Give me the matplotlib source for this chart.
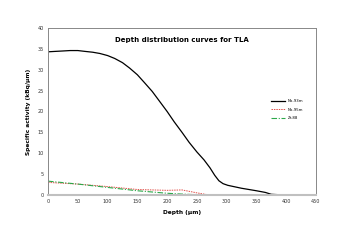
import matplotlib.pyplot as plt

# depth distribution data
depth_a = [0, 12, 25, 37, 50, 62, 75, 87, 100, 112, 125, 137, 150, 162, 175, 187,
           200, 212, 225, 237, 250, 262, 272, 280, 287, 294, 302, 325, 350, 365, 375, 395]
act_a = [34.3, 34.4, 34.5, 34.6, 34.6, 34.4, 34.2, 33.9, 33.4, 32.7, 31.7, 30.4,
         28.8, 26.9, 24.8, 22.5, 20.0, 17.5, 15.0, 12.6, 10.3, 8.4, 6.5, 4.7, 3.4,
         2.7, 2.3, 1.6, 1.0, 0.6, 0.15, 0.0]
depth_b = [0, 50, 100, 150, 200, 225, 250, 270]
act_b = [3.0, 2.6, 2.0, 1.3, 1.1, 1.2, 0.5, 0.0]
depth_c = [0, 50, 100, 150, 200, 225, 250, 275]
act_c = [3.3, 2.6, 1.8, 1.0, 0.4, 0.2, 0.05, 0.0]
labels = ["Nb-93m", "Nb-95m", "Zr-88"]

fig = plt.figure(figsize=(3.51, 2.48), dpi=100)
ax = fig.add_axes([0.137, 0.214, 0.763, 0.673])

ax.plot(depth_a, act_a, color='black', linewidth=0.9, label=labels[0])
ax.plot(depth_b, act_b, color='#e0504a', linewidth=0.7, linestyle=(0, (1.5, 1)), label=labels[1])
ax.plot(depth_c, act_c, color='#2ca84a', linewidth=0.8, linestyle=(0, (5, 1.5, 1, 1.5)), label=labels[2])

ax.set_xlim(0, 450)
ax.set_ylim(0, 40)
ax.set_xticks(range(0, 451, 50))
ax.set_yticks(range(0, 41, 5))
ax.tick_params(labelsize=3.5, length=0, pad=3, labelcolor='#333333')
for s in ax.spines.values():
    s.set_color('#888888')
    s.set_linewidth(0.7)
ax.spines['bottom'].set_color('#c0c0c0')
ax.spines['bottom'].set_linewidth(1.5)

ax.set_xlabel('Depth (µm)', fontsize=4.2, fontweight='bold', labelpad=4)
ax.set_ylabel('Specific activity (kBq/µm)', fontsize=4.2, fontweight='bold', labelpad=5)
ax.text(0.5, 0.93, 'Depth distribution curves for TLA', transform=ax.transAxes,
        ha='center', va='center', fontsize=5, fontweight='bold')

ax.legend(loc='center left', bbox_to_anchor=(0.82, 0.51), fontsize=2.8, frameon=False,
          handlelength=3.5, labelspacing=1.2)

fig.savefig('out.png', dpi=100)
